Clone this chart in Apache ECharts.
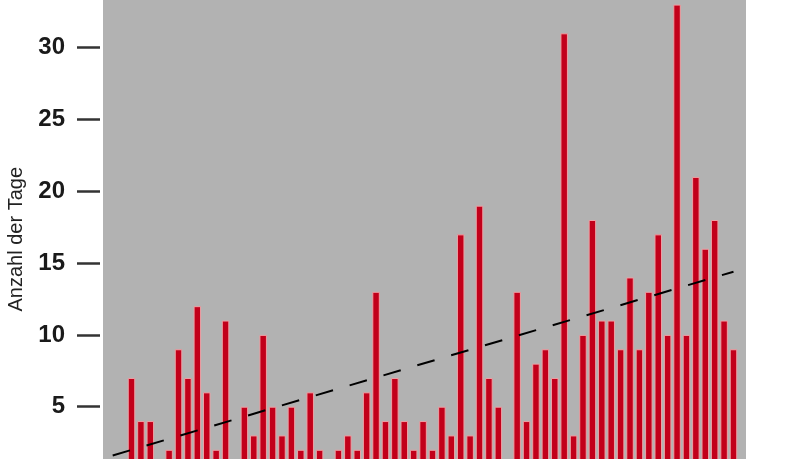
<!DOCTYPE html>
<html>
<head>
<meta charset="utf-8">
<script src="https://cdn.jsdelivr.net/npm/echarts@6/dist/echarts.min.js"></script>
<style>
  html, body { margin: 0; padding: 0; background: #fff; overflow: hidden; }
  /* the plot runs a little past the bottom of the window, like the cropped original */
  #chart { width: 812px; height: 479px; }
</style>
</head>
<body>
<div id="chart"></div>
<script>
// Jahre (x-Achse ist unten abgeschnitten)
var years = [];
for (var y = 1955; y <= 2021; y++) years.push(y);

// Anzahl der Tage pro Jahr
var days = [1, 0, 7, 4, 4, 0, 2, 9, 7, 12, 6, 2, 11, 1, 5, 3, 10, 5, 3, 5,
            2, 6, 2, 0, 2, 3, 2, 6, 13, 4, 7, 4, 2, 4, 2, 5, 3, 17, 3, 19,
            7, 5, 1, 13, 4, 8, 9, 7, 31, 3, 10, 18, 11, 11, 9, 14, 9, 13, 17, 10,
            33, 10, 21, 16, 18, 11, 9];

// Trendlinie (Start- und Endwert)
var trendYears = [1955, 2021];
var trendValues = [1.6, 14.4];

var yTicks = [5, 10, 15, 20, 25, 30];

var barData = years.map(function (yr, i) { return [yr, days[i]]; });
var trendData = trendYears.map(function (yr, i) { return [yr, trendValues[i]]; });

var myChart = echarts.init(document.getElementById('chart'));

myChart.setOption({
    animation: false,
    grid: {
        left: 103,
        right: 66,
        top: 0,
        bottom: 0.5,
        outerBoundsMode: 'none',
        show: true,
        backgroundColor: '#b2b2b2',
        borderWidth: 0
    },
    xAxis: {
        type: 'value',
        min: 1953.97,
        max: 2022.33,
        show: false
    },
    yAxis: {
        type: 'value',
        min: 0,
        max: 33.32,
        offset: 3,
        name: 'Anzahl der Tage',
        nameLocation: 'middle',
        nameRotate: 90,
        nameGap: 74,
        nameTextStyle: {
            fontFamily: 'Liberation Sans, Arial, sans-serif',
            fontSize: 20,
            color: '#222'
        },
        axisLine: { show: false },
        splitLine: { show: false },
        axisTick: {
            show: true,
            inside: false,
            length: 23,
            customValues: yTicks,
            lineStyle: { color: '#333', width: 2.5 }
        },
        axisLabel: {
            customValues: yTicks,
            margin: 35,
            fontFamily: 'Liberation Sans, Arial, sans-serif',
            fontSize: 24,
            fontWeight: 'bold',
            color: '#1a1a1a'
        }
    },
    series: [
        {
            type: 'bar',
            data: barData,
            barWidth: 7.5,
            itemStyle: {
                color: '#c2001a',
                borderColor: '#eea0a4',
                borderWidth: 1
            },
            z: 2
        },
        {
            type: 'line',
            data: trendData,
            symbol: 'none',
            silent: true,
            lineStyle: { color: '#000', width: 2, type: [18, 17.3] },
            z: 3
        }
    ]
});
</script>
</body>
</html>
